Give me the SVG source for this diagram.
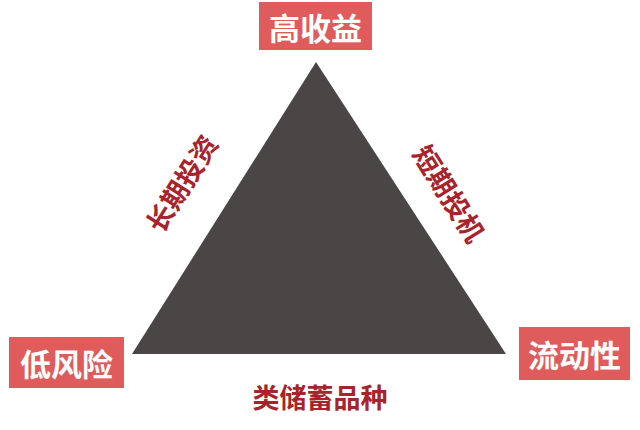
<svg xmlns="http://www.w3.org/2000/svg" width="640" height="430" viewBox="0 0 640 430">
<style>
.box{fill:#e05c5c}
.bt{fill:#ffffff;font-family:"Noto Sans CJK SC","Liberation Sans",sans-serif;font-weight:bold;font-size:31px;text-anchor:middle;dominant-baseline:central}
.st{fill:#a8232b;font-family:"Noto Sans CJK SC","Liberation Sans",sans-serif;font-weight:bold;font-size:27px;text-anchor:middle;dominant-baseline:central}
</style>
<rect width="640" height="430" fill="#ffffff"/>
<g id="triangle"><polygon points="316,62 132,354 506,354" fill="#4a4646"/></g>
<g id="high-return"><rect class="box" x="259" y="2" width="113" height="48"/><text class="bt" x="315.5" y="26">高收益</text></g>
<g id="low-risk"><rect class="box" x="9" y="337" width="115" height="51"/><text class="bt" x="66.5" y="362">低风险</text></g>
<g id="liquidity"><rect class="box" x="519" y="327" width="111" height="53"/><text class="bt" x="574.5" y="353">流动性</text></g>
<g id="long-term"><text class="st" transform="translate(181,183) rotate(-57.8)">长期投资</text></g>
<g id="short-term"><text class="st" transform="translate(450,193) rotate(57.8)">短期投机</text></g>
<g id="savings"><text class="st" x="320" y="396">类储蓄品种</text></g>
</svg>
